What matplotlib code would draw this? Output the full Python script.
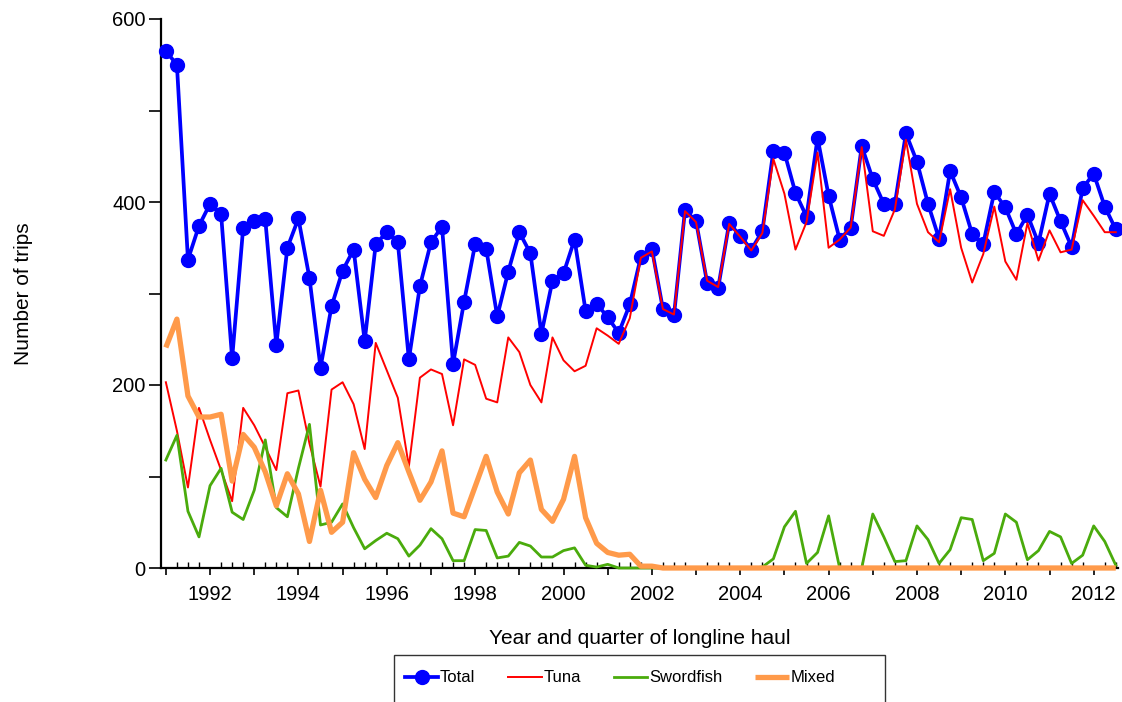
import numpy as np
import matplotlib
matplotlib.use("Agg")
import matplotlib.pyplot as plt
from matplotlib.ticker import FixedLocator, FuncFormatter
from matplotlib.patches import Rectangle

plt.rcParams['font.family'] = ['Liberation Sans', 'DejaVu Sans']

# ---- data (quarterly, first quarter of 1991 onwards) ----
start_year = 1991
total = [565, 550, 337, 374, 398, 387, 229, 372, 379, 381, 244, 350, 382, 317, 219, 286,
         325, 348, 248, 354, 367, 356, 228, 308, 356, 373, 223, 291, 354, 349, 275, 324,
         367, 344, 256, 314, 322, 359, 281, 289, 274, 257, 288, 340, 349, 283, 276, 391,
         379, 312, 306, 377, 363, 348, 368, 456, 454, 410, 384, 470, 407, 359, 372, 461,
         425, 398, 398, 475, 444, 398, 360, 434, 405, 365, 354, 411, 394, 365, 386, 355,
         409, 379, 351, 415, 431, 395, 370]
tuna = [203, 150, 88, 175, 140, 107, 73, 175, 156, 132, 107, 191, 194, 136, 89, 195,
        203, 179, 130, 246, 216, 186, 111, 208, 217, 212, 156, 228, 222, 185, 181, 252,
        236, 200, 181, 252, 227, 215, 221, 262, 254, 245, 273, 339, 346, 283, 277, 390,
        378, 314, 307, 376, 362, 347, 366, 447, 409, 348, 378, 454, 350, 359, 372, 460,
        368, 363, 392, 468, 398, 367, 356, 414, 350, 312, 343, 395, 335, 315, 377, 336,
        369, 345, 348, 402, 385, 367, 367]
swordfish = [118, 145, 62, 34, 90, 109, 61, 53, 85, 140, 66, 56, 109, 157, 47, 50,
             70, 44, 21, 30, 38, 32, 13, 25, 43, 32, 8, 8, 42, 41, 11, 13,
             28, 24, 12, 12, 19, 22, 3, 1, 4, 0, 0, 0, 0, 0, 0, 0,
             0, 0, 0, 0, 0, 0, 1, 10, 45, 62, 5, 17, 57, 0, 0, 0,
             59, 34, 7, 8, 46, 31, 5, 20, 55, 53, 8, 16, 59, 50, 9, 19,
             40, 34, 5, 14, 46, 29, 3]
mixed = [241, 272, 188, 165, 165, 168, 95, 146, 132, 105, 68, 103, 81, 29, 85, 39,
         50, 126, 97, 77, 112, 137, 105, 74, 94, 128, 60, 56, 89, 122, 83, 59,
         104, 118, 64, 51, 75, 122, 55, 27, 17, 14, 15, 2, 2, 0, 0, 0,
         0, 0, 0, 0, 0, 0, 0, 0, 0, 0, 0, 0, 0, 0, 0, 0,
         0, 0, 0, 0, 0, 0, 0, 0, 0, 0, 0, 0, 0, 0, 0, 0,
         0, 0, 0, 0, 0, 0, 0]
series_names = ["Total", "Tuna", "Swordfish", "Mixed"]
x_tick_labels = ["1992", "1994", "1996", "1998", "2000", "2002", "2004",
                 "2006", "2008", "2010", "2012"]
y_tick_labels = ["0", "200", "400", "600"]

x = start_year + np.arange(len(total)) / 4.0

fig = plt.figure(figsize=(11.22, 7.02), dpi=100)
ax = fig.add_axes([161 / 1122, 1 - 568 / 702, (1118 - 161) / 1122, (568 - 19) / 702])

ax.plot(x, total, color="#0000ff", lw=2.7, marker="o", ms=10, mec="#0000ff",
        mfc="#0000ff", label=series_names[0], clip_on=False, zorder=3)
ax.plot(x, tuna, color="#ff0000", lw=1.4, label=series_names[1], clip_on=False, zorder=4)
ax.plot(x, swordfish, color="#4aab0c", lw=2.0, label=series_names[2], clip_on=False, zorder=5)
ax.plot(x, mixed, color="#ff9a4a", lw=3.8, label=series_names[3], clip_on=False, zorder=6,
        solid_capstyle="butt")

ax.set_xlim(1990.89, 2012.55)
ax.set_ylim(0, 600)

for s in ["top", "right"]:
    ax.spines[s].set_visible(False)
for s in ["left", "bottom"]:
    ax.spines[s].set_linewidth(1.6)
    ax.spines[s].set_color("black")

# x ticks: years major (out), quarters minor (in)
years = np.arange(start_year, 2013)
ax.xaxis.set_major_locator(FixedLocator(years))
quarters = [v for v in x if abs(v - round(v)) > 1e-6]
ax.xaxis.set_minor_locator(FixedLocator(quarters))
ax.xaxis.set_major_formatter(FuncFormatter(
    lambda v, p: str(int(round(v))) if str(int(round(v))) in x_tick_labels else ""))
ax.tick_params(axis="x", which="major", direction="out", length=5, width=1.2,
               labelsize=14.5, pad=7)
ax.tick_params(axis="x", which="minor", direction="in", length=4, width=1.0)

# y ticks
ax.yaxis.set_major_locator(FixedLocator(np.arange(0, 601, 100)))
ax.yaxis.set_major_formatter(FuncFormatter(
    lambda v, p: str(int(v)) if str(int(v)) in y_tick_labels else ""))
ax.tick_params(axis="y", which="major", direction="out", length=9, width=1.2,
               labelsize=14.5, pad=2)

ax.set_xlabel("Year and quarter of longline haul", fontsize=15, labelpad=18)
ax.set_ylabel("Number of trips", fontsize=15)
ax.yaxis.set_label_coords((33 - 161) / 957, 0.5)

# legend
leg = fig.legend(loc="center", bbox_to_anchor=(405 / 1122, 1 - 690 / 702, 430 / 1122, 24 / 702),
                 mode="expand", ncol=4, frameon=False, fontsize=12,
                 handlelength=2.0, handletextpad=0.1, borderpad=0.0, borderaxespad=0,
                 numpoints=1)
fig.add_artist(Rectangle((394 / 1122, -0.05), 491 / 1122, (702 - 655) / 702 + 0.05,
                         transform=fig.transFigure, fill=False, edgecolor="#333333",
                         lw=1.0, clip_on=False))

fig.savefig("out.png", dpi=100)
